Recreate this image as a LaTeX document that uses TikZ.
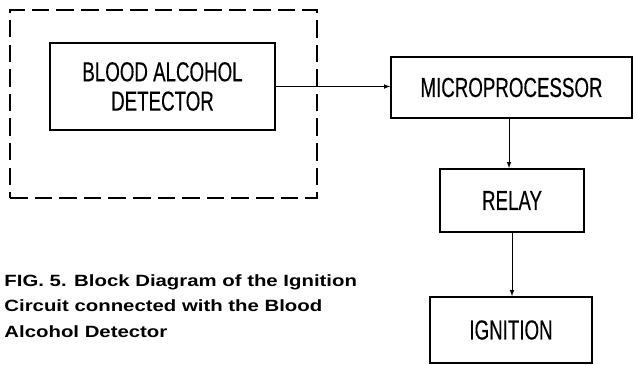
\documentclass[tikz,border=0pt]{standalone}
\usepackage{fontspec}
\setmainfont{Liberation Sans}
\newfontfamily\narrowfont[FakeStretch=0.68, FakeBold=0.3]{Liberation Sans}
\newfontfamily\captionfont[FakeStretch=1.25]{Liberation Sans}
\usetikzlibrary{math}

\begin{document}
\begin{tikzpicture}[x=0.03cm, y=-0.03cm, line width=0.8pt,
    block/.style={draw, line width=1.5pt, inner sep=0pt, align=center,
        font=\narrowfont\fontsize{23.5}{25}\selectfont},
    frame/.style={draw, line width=2.2pt, dash pattern=on 15pt off 6pt, inner sep=0pt}]
    \tikzmath{
        \u=0.03;
    }

    \useasboundingbox (0, 0) rectangle (637, 365);

    % detector inside the dashed frame
    \node [frame, minimum width=\u*307cm, minimum height=\u*188cm] (frame) at (163.5, 104) {};
    \node [block, minimum width=\u*225cm, minimum height=\u*87cm] (detector) at (162.5, 86.5) {BLOOD ALCOHOL\\DETECTOR};

    % control chain
    \node [block, minimum width=\u*241cm, minimum height=\u*61cm] (micro) at (511.5, 87.5) {MICROPROCESSOR};
    \node [block, minimum width=\u*144cm, minimum height=\u*63cm] (relay) at (512, 200.5) {RELAY};
    \node [block, minimum width=\u*162cm, minimum height=\u*66cm] (ignition) at (511, 330) {IGNITION};

    \draw [-latex] (detector.east) -- (detector.east -| micro.west);
    \draw [-latex] (micro.south -| 509, 0) -- (relay.north -| 509, 0);
    \draw [-latex] (relay) -- (relay |- ignition.north);

    % caption
    \node [anchor=north west, align=left, inner sep=0pt,
        font=\captionfont\bfseries\fontsize{13.9}{21.7}\selectfont] (caption) at (4, 274)
        {FIG. 5. Block Diagram of the Ignition\\Circuit connected with the Blood\\Alcohol Detector};
\end{tikzpicture}
\end{document}
